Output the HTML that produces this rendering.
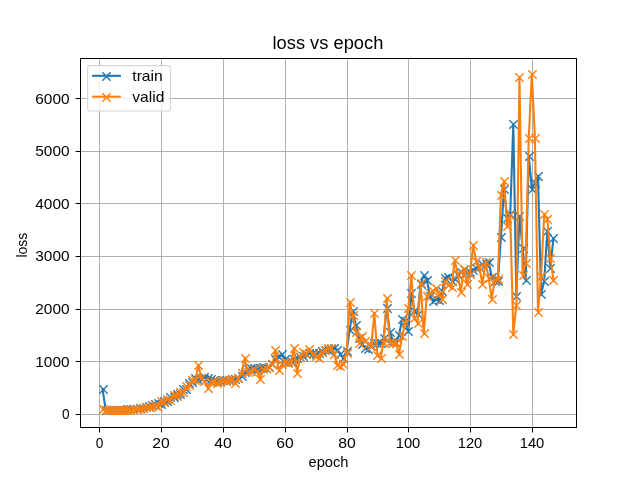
<!DOCTYPE html>
<html><head><meta charset="utf-8"><style>html,body{margin:0;padding:0;background:#fff;overflow:hidden}svg{display:block;will-change:transform}</style></head><body>
<svg width="640" height="480" viewBox="0 0 640 480">
<rect width="640" height="480" fill="#fff"/>
<path d="M99.5 58.5V427.5M161.5 58.5V427.5M223.5 58.5V427.5M285.5 58.5V427.5M347.5 58.5V427.5M408.5 58.5V427.5M470.5 58.5V427.5M532.5 58.5V427.5M80.5 414.5H576.5M80.5 361.5H576.5M80.5 309.5H576.5M80.5 256.5H576.5M80.5 203.5H576.5M80.5 151.5H576.5M80.5 98.5H576.5" stroke="#b0b0b0" stroke-width="1" fill="none"/>
<clipPath id="ax"><rect x="80" y="57.6" width="496" height="369.6"/></clipPath>
<g clip-path="url(#ax)" fill="none">
<polyline points="102.55,389.11 105.63,409.65 108.72,409.76 111.81,409.87 114.90,409.76 117.99,409.87 121.08,409.76 124.16,409.65 127.25,409.50 130.34,409.34 133.43,409.23 136.52,408.97 139.61,408.44 142.69,407.92 145.78,407.13 148.87,406.07 151.96,405.02 155.05,403.97 158.14,403.18 161.23,404.34 164.31,400.70 167.40,401.44 170.49,397.28 173.58,397.49 176.67,393.59 179.76,394.07 182.84,389.38 185.93,388.80 189.02,383.06 192.11,382.48 195.20,378.05 198.29,379.74 201.37,378.16 204.46,377.11 207.55,377.63 210.64,379.21 213.73,380.27 216.82,380.79 219.91,381.32 222.99,380.27 226.08,380.27 229.17,379.74 232.26,379.21 235.35,378.69 238.44,377.63 241.52,375.53 244.61,372.37 247.70,368.68 250.79,368.15 253.88,368.15 256.97,368.68 260.05,368.15 263.14,367.10 266.23,368.15 269.32,367.10 272.41,364.47 275.50,359.20 278.59,356.57 281.67,353.93 284.76,359.20 287.85,361.83 290.94,360.78 294.03,358.67 297.12,357.62 300.20,357.09 303.29,356.04 306.38,354.46 309.47,353.41 312.56,352.88 315.65,353.93 318.73,352.88 321.82,351.30 324.91,349.72 328.00,350.25 331.09,349.19 334.18,348.14 337.27,349.72 340.35,353.93 343.44,358.15 346.53,351.30 349.62,330.23 352.71,310.75 355.80,325.49 358.88,337.61 361.97,344.45 365.06,347.61 368.15,349.19 371.24,346.03 374.33,343.40 377.41,342.87 380.50,343.40 383.59,338.13 386.68,307.59 389.77,331.81 392.86,340.77 395.95,342.87 399.03,335.50 402.12,318.65 405.21,320.75 408.30,331.02 411.39,293.37 414.48,310.75 417.56,314.43 420.65,283.89 423.74,275.46 426.83,279.67 429.92,296.00 433.01,301.27 436.09,298.63 439.18,299.69 442.27,290.73 445.36,277.57 448.45,276.51 451.54,280.73 454.63,279.15 457.71,274.93 460.80,272.30 463.89,269.14 466.98,272.30 470.07,271.77 473.16,269.67 476.24,268.09 479.33,266.51 482.42,264.40 485.51,263.87 488.60,262.29 491.69,276.51 494.77,280.73 497.86,280.73 500.95,237.28 504.04,188.56 507.13,217.53 510.22,214.37 513.31,124.30 516.39,296.26 519.48,215.95 522.57,248.07 525.66,280.20 528.75,156.43 531.84,188.56 534.92,182.77 538.01,176.45 541.10,293.89 544.19,281.25 547.28,231.22 550.37,267.56 553.45,238.07" stroke="#1f77b4" stroke-width="2.083" stroke-linejoin="round" stroke-linecap="square"/>
<path d="M99.33 385.33L107.67 393.67M99.33 393.67L107.67 385.33M102.33 406.33L110.67 414.67M102.33 414.67L110.67 406.33M105.33 406.33L113.67 414.67M105.33 414.67L113.67 406.33M108.33 406.33L116.67 414.67M108.33 414.67L116.67 406.33M111.33 406.33L119.67 414.67M111.33 414.67L119.67 406.33M114.33 406.33L122.67 414.67M114.33 414.67L122.67 406.33M117.33 406.33L125.67 414.67M117.33 414.67L125.67 406.33M120.33 406.33L128.67 414.67M120.33 414.67L128.67 406.33M123.33 405.33L131.67 413.67M123.33 413.67L131.67 405.33M126.33 405.33L134.67 413.67M126.33 413.67L134.67 405.33M129.33 405.33L137.67 413.67M129.33 413.67L137.67 405.33M133.33 405.33L141.67 413.67M133.33 413.67L141.67 405.33M136.33 404.33L144.67 412.67M136.33 412.67L144.67 404.33M139.33 404.33L147.67 412.67M139.33 412.67L147.67 404.33M142.33 403.33L150.67 411.67M142.33 411.67L150.67 403.33M145.33 402.33L153.67 410.67M145.33 410.67L153.67 402.33M148.33 401.33L156.67 409.67M148.33 409.67L156.67 401.33M151.33 400.33L159.67 408.67M151.33 408.67L159.67 400.33M154.33 399.33L162.67 407.67M154.33 407.67L162.67 399.33M157.33 400.33L165.67 408.67M157.33 408.67L165.67 400.33M160.33 397.33L168.67 405.67M160.33 405.67L168.67 397.33M163.33 397.33L171.67 405.67M163.33 405.67L171.67 397.33M166.33 393.33L174.67 401.67M166.33 401.67L174.67 393.33M170.33 393.33L178.67 401.67M170.33 401.67L178.67 393.33M173.33 390.33L181.67 398.67M173.33 398.67L181.67 390.33M176.33 390.33L184.67 398.67M176.33 398.67L184.67 390.33M179.33 385.33L187.67 393.67M179.33 393.67L187.67 385.33M182.33 385.33L190.67 393.67M182.33 393.67L190.67 385.33M185.33 379.33L193.67 387.67M185.33 387.67L193.67 379.33M188.33 378.33L196.67 386.67M188.33 386.67L196.67 378.33M191.33 374.33L199.67 382.67M191.33 382.67L199.67 374.33M194.33 376.33L202.67 384.67M194.33 384.67L202.67 376.33M197.33 374.33L205.67 382.67M197.33 382.67L205.67 374.33M200.33 373.33L208.67 381.67M200.33 381.67L208.67 373.33M204.33 374.33L212.67 382.67M204.33 382.67L212.67 374.33M207.33 375.33L215.67 383.67M207.33 383.67L215.67 375.33M210.33 376.33L218.67 384.67M210.33 384.67L218.67 376.33M213.33 377.33L221.67 385.67M213.33 385.67L221.67 377.33M216.33 377.33L224.67 385.67M216.33 385.67L224.67 377.33M219.33 376.33L227.67 384.67M219.33 384.67L227.67 376.33M222.33 376.33L230.67 384.67M222.33 384.67L230.67 376.33M225.33 376.33L233.67 384.67M225.33 384.67L233.67 376.33M228.33 375.33L236.67 383.67M228.33 383.67L236.67 375.33M231.33 375.33L239.67 383.67M231.33 383.67L239.67 375.33M234.33 374.33L242.67 382.67M234.33 382.67L242.67 374.33M238.33 372.33L246.67 380.67M238.33 380.67L246.67 372.33M241.33 368.33L249.67 376.67M241.33 376.67L249.67 368.33M244.33 365.33L252.67 373.67M244.33 373.67L252.67 365.33M247.33 364.33L255.67 372.67M247.33 372.67L255.67 364.33M250.33 364.33L258.67 372.67M250.33 372.67L258.67 364.33M253.33 365.33L261.67 373.67M253.33 373.67L261.67 365.33M256.33 364.33L264.67 372.67M256.33 372.67L264.67 364.33M259.33 363.33L267.67 371.67M259.33 371.67L267.67 363.33M262.33 364.33L270.67 372.67M262.33 372.67L270.67 364.33M265.33 363.33L273.67 371.67M265.33 371.67L273.67 363.33M268.33 360.33L276.67 368.67M268.33 368.67L276.67 360.33M271.33 355.33L279.67 363.67M271.33 363.67L279.67 355.33M275.33 353.33L283.67 361.67M275.33 361.67L283.67 353.33M278.33 350.33L286.67 358.67M278.33 358.67L286.67 350.33M281.33 355.33L289.67 363.67M281.33 363.67L289.67 355.33M284.33 358.33L292.67 366.67M284.33 366.67L292.67 358.33M287.33 357.33L295.67 365.67M287.33 365.67L295.67 357.33M290.33 355.33L298.67 363.67M290.33 363.67L298.67 355.33M293.33 354.33L301.67 362.67M293.33 362.67L301.67 354.33M296.33 353.33L304.67 361.67M296.33 361.67L304.67 353.33M299.33 352.33L307.67 360.67M299.33 360.67L307.67 352.33M302.33 350.33L310.67 358.67M302.33 358.67L310.67 350.33M305.33 349.33L313.67 357.67M305.33 357.67L313.67 349.33M309.33 349.33L317.67 357.67M309.33 357.67L317.67 349.33M312.33 350.33L320.67 358.67M312.33 358.67L320.67 350.33M315.33 349.33L323.67 357.67M315.33 357.67L323.67 349.33M318.33 347.33L326.67 355.67M318.33 355.67L326.67 347.33M321.33 346.33L329.67 354.67M321.33 354.67L329.67 346.33M324.33 346.33L332.67 354.67M324.33 354.67L332.67 346.33M327.33 345.33L335.67 353.67M327.33 353.67L335.67 345.33M330.33 344.33L338.67 352.67M330.33 352.67L338.67 344.33M333.33 346.33L341.67 354.67M333.33 354.67L341.67 346.33M336.33 350.33L344.67 358.67M336.33 358.67L344.67 350.33M339.33 354.33L347.67 362.67M339.33 362.67L347.67 354.33M343.33 347.33L351.67 355.67M343.33 355.67L351.67 347.33M346.33 326.33L354.67 334.67M346.33 334.67L354.67 326.33M349.33 307.33L357.67 315.67M349.33 315.67L357.67 307.33M352.33 321.33L360.67 329.67M352.33 329.67L360.67 321.33M355.33 334.33L363.67 342.67M355.33 342.67L363.67 334.33M358.33 340.33L366.67 348.67M358.33 348.67L366.67 340.33M361.33 344.33L369.67 352.67M361.33 352.67L369.67 344.33M364.33 345.33L372.67 353.67M364.33 353.67L372.67 345.33M367.33 342.33L375.67 350.67M367.33 350.67L375.67 342.33M370.33 339.33L378.67 347.67M370.33 347.67L378.67 339.33M373.33 339.33L381.67 347.67M373.33 347.67L381.67 339.33M377.33 339.33L385.67 347.67M377.33 347.67L385.67 339.33M380.33 334.33L388.67 342.67M380.33 342.67L388.67 334.33M383.33 304.33L391.67 312.67M383.33 312.67L391.67 304.33M386.33 328.33L394.67 336.67M386.33 336.67L394.67 328.33M389.33 337.33L397.67 345.67M389.33 345.67L397.67 337.33M392.33 339.33L400.67 347.67M392.33 347.67L400.67 339.33M395.33 331.33L403.67 339.67M395.33 339.67L403.67 331.33M398.33 315.33L406.67 323.67M398.33 323.67L406.67 315.33M401.33 317.33L409.67 325.67M401.33 325.67L409.67 317.33M404.33 327.33L412.67 335.67M404.33 335.67L412.67 327.33M407.33 289.33L415.67 297.67M407.33 297.67L415.67 289.33M410.33 307.33L418.67 315.67M410.33 315.67L418.67 307.33M414.33 310.33L422.67 318.67M414.33 318.67L422.67 310.33M417.33 280.33L425.67 288.67M417.33 288.67L425.67 280.33M420.33 271.33L428.67 279.67M420.33 279.67L428.67 271.33M423.33 276.33L431.67 284.67M423.33 284.67L431.67 276.33M426.33 292.33L434.67 300.67M426.33 300.67L434.67 292.33M429.33 297.33L437.67 305.67M429.33 305.67L437.67 297.33M432.33 295.33L440.67 303.67M432.33 303.67L440.67 295.33M435.33 296.33L443.67 304.67M435.33 304.67L443.67 296.33M438.33 287.33L446.67 295.67M438.33 295.67L446.67 287.33M441.33 274.33L449.67 282.67M441.33 282.67L449.67 274.33M444.33 273.33L452.67 281.67M444.33 281.67L452.67 273.33M448.33 277.33L456.67 285.67M448.33 285.67L456.67 277.33M451.33 275.33L459.67 283.67M451.33 283.67L459.67 275.33M454.33 271.33L462.67 279.67M454.33 279.67L462.67 271.33M457.33 268.33L465.67 276.67M457.33 276.67L465.67 268.33M460.33 265.33L468.67 273.67M460.33 273.67L468.67 265.33M463.33 268.33L471.67 276.67M463.33 276.67L471.67 268.33M466.33 268.33L474.67 276.67M466.33 276.67L474.67 268.33M469.33 266.33L477.67 274.67M469.33 274.67L477.67 266.33M472.33 264.33L480.67 272.67M472.33 272.67L480.67 264.33M475.33 263.33L483.67 271.67M475.33 271.67L483.67 263.33M478.33 260.33L486.67 268.67M478.33 268.67L486.67 260.33M482.33 260.33L490.67 268.67M482.33 268.67L490.67 260.33M485.33 258.33L493.67 266.67M485.33 266.67L493.67 258.33M488.33 273.33L496.67 281.67M488.33 281.67L496.67 273.33M491.33 277.33L499.67 285.67M491.33 285.67L499.67 277.33M494.33 277.33L502.67 285.67M494.33 285.67L502.67 277.33M497.33 233.33L505.67 241.67M497.33 241.67L505.67 233.33M500.33 185.33L508.67 193.67M500.33 193.67L508.67 185.33M503.33 214.33L511.67 222.67M503.33 222.67L511.67 214.33M506.33 210.33L514.67 218.67M506.33 218.67L514.67 210.33M509.33 120.33L517.67 128.67M509.33 128.67L517.67 120.33M512.33 292.33L520.67 300.67M512.33 300.67L520.67 292.33M515.33 212.33L523.67 220.67M515.33 220.67L523.67 212.33M519.33 244.33L527.67 252.67M519.33 252.67L527.67 244.33M522.33 276.33L530.67 284.67M522.33 284.67L530.67 276.33M525.33 152.33L533.67 160.67M525.33 160.67L533.67 152.33M528.33 185.33L536.67 193.67M528.33 193.67L536.67 185.33M531.33 179.33L539.67 187.67M531.33 187.67L539.67 179.33M534.33 172.33L542.67 180.67M534.33 180.67L542.67 172.33M537.33 290.33L545.67 298.67M537.33 298.67L545.67 290.33M540.33 277.33L548.67 285.67M540.33 285.67L548.67 277.33M543.33 227.33L551.67 235.67M543.33 235.67L551.67 227.33M546.33 264.33L554.67 272.67M546.33 272.67L554.67 264.33M549.33 234.33L557.67 242.67M549.33 242.67L557.67 234.33" stroke="#1f77b4" stroke-width="1.389"/>
<polyline points="102.55,409.39 105.63,409.87 108.72,409.97 111.81,409.76 114.90,410.02 117.99,409.87 121.08,409.97 124.16,409.76 127.25,409.87 130.34,409.65 133.43,409.50 136.52,409.23 139.61,408.71 142.69,408.18 145.78,407.39 148.87,406.60 151.96,405.55 155.05,404.76 158.14,407.13 161.23,401.07 164.31,401.86 167.40,399.12 170.49,399.60 173.58,395.17 176.67,395.91 179.76,391.75 182.84,391.70 185.93,386.48 189.02,385.38 192.11,380.16 195.20,380.37 198.29,365.26 201.37,378.16 204.46,380.79 207.55,387.64 210.64,381.85 213.73,380.79 216.82,382.90 219.91,381.85 222.99,379.74 226.08,380.79 229.17,379.74 232.26,378.69 235.35,383.43 238.44,377.63 241.52,373.42 244.61,357.88 247.70,372.37 250.79,371.31 253.88,369.21 256.97,370.79 260.05,379.21 263.14,369.21 266.23,368.15 269.32,367.10 272.41,364.47 275.50,350.25 278.59,370.00 281.67,364.47 284.76,362.36 287.85,362.89 290.94,361.83 294.03,348.14 297.12,373.42 300.20,356.57 303.29,351.83 306.38,353.93 309.47,349.19 312.56,353.93 315.65,355.51 318.73,358.41 321.82,352.35 324.91,350.25 328.00,347.61 331.09,348.14 334.18,353.93 337.27,364.73 340.35,366.05 343.44,363.68 346.53,353.41 349.62,301.79 352.71,315.49 355.80,331.81 358.88,342.87 361.97,336.29 365.06,340.77 368.15,343.93 371.24,346.03 374.33,313.38 377.41,354.99 380.50,358.41 383.59,342.87 386.68,298.11 389.77,341.82 392.86,342.87 395.95,343.40 399.03,353.93 402.12,336.03 405.21,322.86 408.30,307.59 411.39,275.46 414.48,318.38 417.56,322.86 420.65,283.10 423.74,333.13 426.83,296.26 429.92,293.37 433.01,290.73 436.09,288.10 439.18,294.42 442.27,298.63 445.36,281.25 448.45,285.47 451.54,286.52 454.63,260.45 457.71,273.88 460.80,291.79 463.89,268.61 466.98,284.41 470.07,273.88 473.16,245.44 476.24,260.98 479.33,267.03 482.42,284.41 485.51,262.29 488.60,277.57 491.69,298.63 494.77,280.20 497.86,278.78 500.95,194.88 504.04,181.19 507.13,226.48 510.22,214.89 513.31,334.45 516.39,304.95 519.48,77.43 522.57,274.93 525.66,263.35 528.75,138.00 531.84,74.01 534.92,138.00 538.01,311.80 541.10,276.25 544.19,214.37 547.28,218.58 550.37,257.55 553.45,280.20" stroke="#ff7f0e" stroke-width="2.083" stroke-linejoin="round" stroke-linecap="square"/>
<path d="M99.33 405.33L107.67 413.67M99.33 413.67L107.67 405.33M102.33 406.33L110.67 414.67M102.33 414.67L110.67 406.33M105.33 406.33L113.67 414.67M105.33 414.67L113.67 406.33M108.33 406.33L116.67 414.67M108.33 414.67L116.67 406.33M111.33 406.33L119.67 414.67M111.33 414.67L119.67 406.33M114.33 406.33L122.67 414.67M114.33 414.67L122.67 406.33M117.33 406.33L125.67 414.67M117.33 414.67L125.67 406.33M120.33 406.33L128.67 414.67M120.33 414.67L128.67 406.33M123.33 406.33L131.67 414.67M123.33 414.67L131.67 406.33M126.33 406.33L134.67 414.67M126.33 414.67L134.67 406.33M129.33 405.33L137.67 413.67M129.33 413.67L137.67 405.33M133.33 405.33L141.67 413.67M133.33 413.67L141.67 405.33M136.33 405.33L144.67 413.67M136.33 413.67L144.67 405.33M139.33 404.33L147.67 412.67M139.33 412.67L147.67 404.33M142.33 403.33L150.67 411.67M142.33 411.67L150.67 403.33M145.33 403.33L153.67 411.67M145.33 411.67L153.67 403.33M148.33 402.33L156.67 410.67M148.33 410.67L156.67 402.33M151.33 401.33L159.67 409.67M151.33 409.67L159.67 401.33M154.33 403.33L162.67 411.67M154.33 411.67L162.67 403.33M157.33 397.33L165.67 405.67M157.33 405.67L165.67 397.33M160.33 398.33L168.67 406.67M160.33 406.67L168.67 398.33M163.33 395.33L171.67 403.67M163.33 403.67L171.67 395.33M166.33 396.33L174.67 404.67M166.33 404.67L174.67 396.33M170.33 391.33L178.67 399.67M170.33 399.67L178.67 391.33M173.33 392.33L181.67 400.67M173.33 400.67L181.67 392.33M176.33 388.33L184.67 396.67M176.33 396.67L184.67 388.33M179.33 388.33L187.67 396.67M179.33 396.67L187.67 388.33M182.33 382.33L190.67 390.67M182.33 390.67L190.67 382.33M185.33 381.33L193.67 389.67M185.33 389.67L193.67 381.33M188.33 376.33L196.67 384.67M188.33 384.67L196.67 376.33M191.33 376.33L199.67 384.67M191.33 384.67L199.67 376.33M194.33 361.33L202.67 369.67M194.33 369.67L202.67 361.33M197.33 374.33L205.67 382.67M197.33 382.67L205.67 374.33M200.33 377.33L208.67 385.67M200.33 385.67L208.67 377.33M204.33 384.33L212.67 392.67M204.33 392.67L212.67 384.33M207.33 378.33L215.67 386.67M207.33 386.67L215.67 378.33M210.33 377.33L218.67 385.67M210.33 385.67L218.67 377.33M213.33 379.33L221.67 387.67M213.33 387.67L221.67 379.33M216.33 378.33L224.67 386.67M216.33 386.67L224.67 378.33M219.33 376.33L227.67 384.67M219.33 384.67L227.67 376.33M222.33 377.33L230.67 385.67M222.33 385.67L230.67 377.33M225.33 376.33L233.67 384.67M225.33 384.67L233.67 376.33M228.33 375.33L236.67 383.67M228.33 383.67L236.67 375.33M231.33 379.33L239.67 387.67M231.33 387.67L239.67 379.33M234.33 374.33L242.67 382.67M234.33 382.67L242.67 374.33M238.33 369.33L246.67 377.67M238.33 377.67L246.67 369.33M241.33 354.33L249.67 362.67M241.33 362.67L249.67 354.33M244.33 368.33L252.67 376.67M244.33 376.67L252.67 368.33M247.33 367.33L255.67 375.67M247.33 375.67L255.67 367.33M250.33 365.33L258.67 373.67M250.33 373.67L258.67 365.33M253.33 367.33L261.67 375.67M253.33 375.67L261.67 367.33M256.33 375.33L264.67 383.67M256.33 383.67L264.67 375.33M259.33 365.33L267.67 373.67M259.33 373.67L267.67 365.33M262.33 364.33L270.67 372.67M262.33 372.67L270.67 364.33M265.33 363.33L273.67 371.67M265.33 371.67L273.67 363.33M268.33 360.33L276.67 368.67M268.33 368.67L276.67 360.33M271.33 346.33L279.67 354.67M271.33 354.67L279.67 346.33M275.33 366.33L283.67 374.67M275.33 374.67L283.67 366.33M278.33 360.33L286.67 368.67M278.33 368.67L286.67 360.33M281.33 358.33L289.67 366.67M281.33 366.67L289.67 358.33M284.33 359.33L292.67 367.67M284.33 367.67L292.67 359.33M287.33 358.33L295.67 366.67M287.33 366.67L295.67 358.33M290.33 344.33L298.67 352.67M290.33 352.67L298.67 344.33M293.33 369.33L301.67 377.67M293.33 377.67L301.67 369.33M296.33 353.33L304.67 361.67M296.33 361.67L304.67 353.33M299.33 348.33L307.67 356.67M299.33 356.67L307.67 348.33M302.33 350.33L310.67 358.67M302.33 358.67L310.67 350.33M305.33 345.33L313.67 353.67M305.33 353.67L313.67 345.33M309.33 350.33L317.67 358.67M309.33 358.67L317.67 350.33M312.33 352.33L320.67 360.67M312.33 360.67L320.67 352.33M315.33 354.33L323.67 362.67M315.33 362.67L323.67 354.33M318.33 348.33L326.67 356.67M318.33 356.67L326.67 348.33M321.33 346.33L329.67 354.67M321.33 354.67L329.67 346.33M324.33 344.33L332.67 352.67M324.33 352.67L332.67 344.33M327.33 344.33L335.67 352.67M327.33 352.67L335.67 344.33M330.33 350.33L338.67 358.67M330.33 358.67L338.67 350.33M333.33 361.33L341.67 369.67M333.33 369.67L341.67 361.33M336.33 362.33L344.67 370.67M336.33 370.67L344.67 362.33M339.33 360.33L347.67 368.67M339.33 368.67L347.67 360.33M343.33 349.33L351.67 357.67M343.33 357.67L351.67 349.33M346.33 298.33L354.67 306.67M346.33 306.67L354.67 298.33M349.33 311.33L357.67 319.67M349.33 319.67L357.67 311.33M352.33 328.33L360.67 336.67M352.33 336.67L360.67 328.33M355.33 339.33L363.67 347.67M355.33 347.67L363.67 339.33M358.33 332.33L366.67 340.67M358.33 340.67L366.67 332.33M361.33 337.33L369.67 345.67M361.33 345.67L369.67 337.33M364.33 340.33L372.67 348.67M364.33 348.67L372.67 340.33M367.33 342.33L375.67 350.67M367.33 350.67L375.67 342.33M370.33 309.33L378.67 317.67M370.33 317.67L378.67 309.33M373.33 351.33L381.67 359.67M373.33 359.67L381.67 351.33M377.33 354.33L385.67 362.67M377.33 362.67L385.67 354.33M380.33 339.33L388.67 347.67M380.33 347.67L388.67 339.33M383.33 294.33L391.67 302.67M383.33 302.67L391.67 294.33M386.33 338.33L394.67 346.67M386.33 346.67L394.67 338.33M389.33 339.33L397.67 347.67M389.33 347.67L397.67 339.33M392.33 339.33L400.67 347.67M392.33 347.67L400.67 339.33M395.33 350.33L403.67 358.67M395.33 358.67L403.67 350.33M398.33 332.33L406.67 340.67M398.33 340.67L406.67 332.33M401.33 319.33L409.67 327.67M401.33 327.67L409.67 319.33M404.33 304.33L412.67 312.67M404.33 312.67L412.67 304.33M407.33 271.33L415.67 279.67M407.33 279.67L415.67 271.33M410.33 314.33L418.67 322.67M410.33 322.67L418.67 314.33M414.33 319.33L422.67 327.67M414.33 327.67L422.67 319.33M417.33 279.33L425.67 287.67M417.33 287.67L425.67 279.33M420.33 329.33L428.67 337.67M420.33 337.67L428.67 329.33M423.33 292.33L431.67 300.67M423.33 300.67L431.67 292.33M426.33 289.33L434.67 297.67M426.33 297.67L434.67 289.33M429.33 287.33L437.67 295.67M429.33 295.67L437.67 287.33M432.33 284.33L440.67 292.67M432.33 292.67L440.67 284.33M435.33 290.33L443.67 298.67M435.33 298.67L443.67 290.33M438.33 295.33L446.67 303.67M438.33 303.67L446.67 295.33M441.33 277.33L449.67 285.67M441.33 285.67L449.67 277.33M444.33 281.33L452.67 289.67M444.33 289.67L452.67 281.33M448.33 283.33L456.67 291.67M448.33 291.67L456.67 283.33M451.33 256.33L459.67 264.67M451.33 264.67L459.67 256.33M454.33 270.33L462.67 278.67M454.33 278.67L462.67 270.33M457.33 288.33L465.67 296.67M457.33 296.67L465.67 288.33M460.33 265.33L468.67 273.67M460.33 273.67L468.67 265.33M463.33 280.33L471.67 288.67M463.33 288.67L471.67 280.33M466.33 270.33L474.67 278.67M466.33 278.67L474.67 270.33M469.33 241.33L477.67 249.67M469.33 249.67L477.67 241.33M472.33 257.33L480.67 265.67M472.33 265.67L480.67 257.33M475.33 263.33L483.67 271.67M475.33 271.67L483.67 263.33M478.33 280.33L486.67 288.67M478.33 288.67L486.67 280.33M482.33 258.33L490.67 266.67M482.33 266.67L490.67 258.33M485.33 274.33L493.67 282.67M485.33 282.67L493.67 274.33M488.33 295.33L496.67 303.67M488.33 303.67L496.67 295.33M491.33 276.33L499.67 284.67M491.33 284.67L499.67 276.33M494.33 275.33L502.67 283.67M494.33 283.67L502.67 275.33M497.33 191.33L505.67 199.67M497.33 199.67L505.67 191.33M500.33 177.33L508.67 185.67M500.33 185.67L508.67 177.33M503.33 222.33L511.67 230.67M503.33 230.67L511.67 222.33M506.33 211.33L514.67 219.67M506.33 219.67L514.67 211.33M509.33 330.33L517.67 338.67M509.33 338.67L517.67 330.33M512.33 301.33L520.67 309.67M512.33 309.67L520.67 301.33M515.33 73.33L523.67 81.67M515.33 81.67L523.67 73.33M519.33 271.33L527.67 279.67M519.33 279.67L527.67 271.33M522.33 259.33L530.67 267.67M522.33 267.67L530.67 259.33M525.33 134.33L533.67 142.67M525.33 142.67L533.67 134.33M528.33 70.33L536.67 78.67M528.33 78.67L536.67 70.33M531.33 134.33L539.67 142.67M531.33 142.67L539.67 134.33M534.33 308.33L542.67 316.67M534.33 316.67L542.67 308.33M537.33 272.33L545.67 280.67M537.33 280.67L545.67 272.33M540.33 210.33L548.67 218.67M540.33 218.67L548.67 210.33M543.33 215.33L551.67 223.67M543.33 223.67L551.67 215.33M546.33 254.33L554.67 262.67M546.33 262.67L554.67 254.33M549.33 276.33L557.67 284.67M549.33 284.67L557.67 276.33" stroke="#ff7f0e" stroke-width="1.389"/>
</g>
<path d="M80.5 58V427.5M576.5 58V428M80 58.5H576.5M80 427.5H576.5" stroke="#000" stroke-width="1" fill="none"/>
<path d="M99.5 428V432.4M161.5 428V432.4M223.5 428V432.4M285.5 428V432.4M347.5 428V432.4M408.5 428V432.4M470.5 428V432.4M532.5 428V432.4M75.6 414.5H80M75.6 361.5H80M75.6 309.5H80M75.6 256.5H80M75.6 203.5H80M75.6 151.5H80M75.6 98.5H80" stroke="#000" stroke-width="1" fill="none"/>
<g font-family='"Liberation Sans", sans-serif' font-size="13.9" fill="#000">
<text x="99.5" y="447.7" text-anchor="middle" textLength="7.6" lengthAdjust="spacingAndGlyphs">0</text>
<text x="160.9" y="447.7" text-anchor="middle" textLength="17.5" lengthAdjust="spacingAndGlyphs">20</text>
<text x="222.9" y="447.7" text-anchor="middle" textLength="17.5" lengthAdjust="spacingAndGlyphs">40</text>
<text x="284.9" y="447.7" text-anchor="middle" textLength="17.5" lengthAdjust="spacingAndGlyphs">60</text>
<text x="346.9" y="447.7" text-anchor="middle" textLength="17.5" lengthAdjust="spacingAndGlyphs">80</text>
<text x="408.0" y="447.7" text-anchor="middle" textLength="24.6" lengthAdjust="spacingAndGlyphs">100</text>
<text x="470.0" y="447.7" text-anchor="middle" textLength="24.6" lengthAdjust="spacingAndGlyphs">120</text>
<text x="532.0" y="447.7" text-anchor="middle" textLength="24.6" lengthAdjust="spacingAndGlyphs">140</text>
<text x="69.6" y="418.5" text-anchor="end" textLength="7.6" lengthAdjust="spacingAndGlyphs">0</text>
<text x="69.6" y="366.5" text-anchor="end" textLength="34.3" lengthAdjust="spacingAndGlyphs">1000</text>
<text x="69.6" y="313.5" text-anchor="end" textLength="34.3" lengthAdjust="spacingAndGlyphs">2000</text>
<text x="69.6" y="260.5" text-anchor="end" textLength="34.3" lengthAdjust="spacingAndGlyphs">3000</text>
<text x="69.6" y="208.5" text-anchor="end" textLength="34.3" lengthAdjust="spacingAndGlyphs">4000</text>
<text x="69.6" y="155.5" text-anchor="end" textLength="34.3" lengthAdjust="spacingAndGlyphs">5000</text>
<text x="69.6" y="103.5" text-anchor="end" textLength="34.3" lengthAdjust="spacingAndGlyphs">6000</text>
<text x="328.5" y="466.9" text-anchor="middle" textLength="40" lengthAdjust="spacingAndGlyphs">epoch</text>
<text transform="translate(27.1 245.1) rotate(-90)" x="0" y="0" text-anchor="middle" textLength="24.9" lengthAdjust="spacingAndGlyphs">loss</text>
</g>
<text x="327.9" y="48.8" font-family='"Liberation Sans", sans-serif' font-size="17.6" text-anchor="middle" textLength="110.8" lengthAdjust="spacingAndGlyphs">loss vs epoch</text>
<rect x="87.6" y="65.6" width="82.9" height="45.4" rx="2.8" fill="#fff" fill-opacity="0.8" stroke="#cccccc" stroke-opacity="0.8" stroke-width="1.1"/>
<path d="M92.1 75.8H120.9" stroke="#1f77b4" stroke-width="2.083"/>
<path d="M102.33 72.33L110.67 80.67M102.33 80.67L110.67 72.33" stroke="#1f77b4" stroke-width="1.389"/>
<path d="M92.1 96.7H120.9" stroke="#ff7f0e" stroke-width="2.083"/>
<path d="M102.33 93.33L110.67 101.67M102.33 101.67L110.67 93.33" stroke="#ff7f0e" stroke-width="1.389"/>
<g font-family='"Liberation Sans", sans-serif' font-size="13.9" fill="#000">
<text x="132.3" y="80.8" textLength="30.5" lengthAdjust="spacingAndGlyphs">train</text>
<text x="132.3" y="101.6" textLength="32" lengthAdjust="spacingAndGlyphs">valid</text>
</g>
</svg>
</body></html>
